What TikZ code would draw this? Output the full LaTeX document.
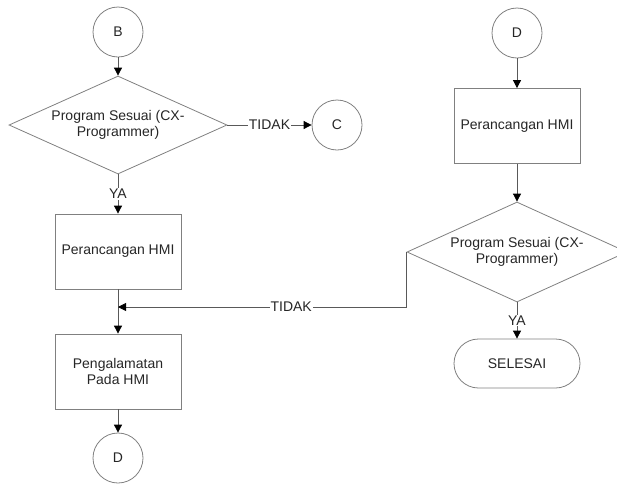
\documentclass[tikz,border=0pt]{standalone}
\usepackage{fontspec}
\setmainfont{Liberation Sans}
\usetikzlibrary{shapes.geometric,arrows.meta}
\begin{document}
\begin{tikzpicture}[x=1pt,y=-1pt,
  every node/.style={font=\fontsize{14}{15.5}\selectfont, text=black!85},
  shp/.style={draw=black!50, line width=0.8pt},
  conn/.style={shp, circle, minimum size=50pt, inner sep=0pt},
  procbox/.style={shp, rectangle, minimum width=126pt, minimum height=75pt, align=center, inner sep=0pt},
  dec/.style={shp, diamond, aspect=2.2, inner sep=0pt, minimum width=218pt, minimum height=98pt, align=center},
  term/.style={shp, rectangle, rounded corners=24.5pt, minimum width=126pt, minimum height=49pt},
  arr/.style={draw=black!65, line width=0.8pt, -{Triangle[length=8pt,width=8pt,color=black]}},
  lbl/.style={fill=white, inner sep=1pt},
]
\useasboundingbox (0,0) rectangle (617,485);
\clip (0,0) rectangle (617,485);
% left column
\node[conn] (B) at (118,32) {B};
\node[dec] (d1) at (118,125) {Program Sesuai (CX-\\Programmer)};
\node[conn] (C) at (337,125) {C};
\node[procbox] (p1) at (118,251.5) {Perancangan HMI};
\node[procbox] (p2) at (118,371.5) {Pengalamatan\\Pada HMI};
\node[conn] (D1) at (118,458) {D};
\coordinate (j) at (118,307);
% right column
\node[conn] (D2) at (517,33) {D};
\node[procbox] (p3) at (517,126) {Perancangan HMI};
\node[dec, minimum width=220pt, minimum height=100pt] (d2) at (517,252) {Program Sesuai (CX-\\Programmer)};
\node[term] (end) at (517,363.5) {SELESAI};
% connectors
\draw[arr] (B) -- (d1);
\draw[arr] (d1.east) -- node[lbl]{TIDAK} (C);
\draw[arr] (d1.south) -- node[lbl]{YA} (p1);
\draw[arr] (p1) -- (p2);
\draw[arr] (p2) -- (D1);
\draw[arr] (D2) -- (p3);
\draw[arr] (p3) -- (d2);
\draw[arr] (d2.south) -- node[lbl]{YA} (end);
\draw[arr] (d2.west) |- node[lbl,pos=0.70]{TIDAK} (j);
\end{tikzpicture}
\end{document}
